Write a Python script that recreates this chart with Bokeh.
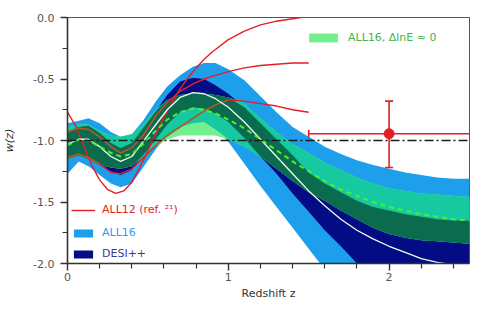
import numpy as np
from bokeh.plotting import figure
from bokeh.models import Range1d, FixedTicker, Span, Legend, LegendItem
from bokeh.embed import file_html
from bokeh.resources import INLINE

# ---------------- data ----------------
Z = [0.0, 0.07, 0.13, 0.2, 0.27, 0.33, 0.4, 0.47, 0.55, 0.62, 0.7, 0.78, 0.85, 0.92, 1.0,
     1.1, 1.2, 1.3, 1.4, 1.5, 1.6, 1.7, 1.8, 1.9, 2.0, 2.1, 2.2, 2.3, 2.4, 2.5]

# ALL16 band (light blue)
all16_hi = [-0.86, -0.84, -0.82, -0.86, -0.93, -0.97, -0.95, -0.84, -0.68, -0.56, -0.47, -0.40, -0.37, -0.37, -0.42,
            -0.51, -0.64, -0.77, -0.89, -0.97, -1.05, -1.11, -1.16, -1.20, -1.23, -1.26, -1.28, -1.30, -1.31, -1.31]
all16_lo = [-1.27, -1.17, -1.21, -1.28, -1.35, -1.38, -1.35, -1.22, -1.07, -0.96, -0.89, -0.86, -0.85, -0.91, -1.01,
            -1.19, -1.37, -1.54, -1.71, -1.88, -2.05, -2.22, -2.39, -2.50, -2.60, -2.65, -2.70, -2.75, -2.80, -2.85]

# DESI++ band (navy)
desi_hi = [-0.93, -0.89, -0.88, -0.94, -1.02, -1.06, -1.02, -0.90, -0.76, -0.63, -0.52, -0.49, -0.50, -0.55, -0.62,
           -0.73, -0.86, -0.99, -1.12, -1.26, -1.35, -1.42, -1.49, -1.54, -1.57, -1.60, -1.62, -1.64, -1.65, -1.65]
desi_lo = [-1.15, -1.12, -1.15, -1.20, -1.25, -1.28, -1.24, -1.12, -0.99, -0.87, -0.77, -0.73, -0.74, -0.78, -0.85,
           -0.98, -1.13, -1.27, -1.43, -1.58, -1.73, -1.86, -2.00, -2.10, -2.18, -2.24, -2.30, -2.35, -2.40, -2.44]

# ALL16, dlnE ~ 0 band (green)
dle_hi = [-0.89, -0.87, -0.87, -0.92, -0.96, -0.97, -0.95, -0.87, -0.75, -0.67, -0.63, -0.62, -0.62, -0.63, -0.65,
          -0.70, -0.82, -0.93, -1.03, -1.10, -1.18, -1.24, -1.30, -1.35, -1.39, -1.41, -1.43, -1.44, -1.45, -1.46]
dle_lo = [-1.15, -1.12, -1.15, -1.20, -1.22, -1.23, -1.21, -1.13, -1.05, -0.99, -0.96, -0.96, -0.96, -0.96, -0.99,
          -1.05, -1.13, -1.23, -1.33, -1.42, -1.49, -1.57, -1.64, -1.71, -1.76, -1.79, -1.81, -1.82, -1.83, -1.84]

# central curves
desi_mid = [-1.03, -0.99, -0.99, -1.05, -1.13, -1.17, -1.13, -1.01, -0.87, -0.75, -0.65, -0.61, -0.62, -0.66, -0.73,
            -0.85, -0.99, -1.13, -1.27, -1.41, -1.53, -1.64, -1.73, -1.80, -1.86, -1.91, -1.96, -1.99, -2.01, -2.03]
dle_mid = [-1.04, -0.99, -1.00, -1.05, -1.10, -1.13, -1.11, -1.03, -0.92, -0.83, -0.77, -0.74, -0.75, -0.78, -0.83,
           -0.90, -0.99, -1.08, -1.17, -1.25, -1.33, -1.40, -1.45, -1.50, -1.54, -1.57, -1.60, -1.62, -1.64, -1.65]

# ALL12 (ref. 21) curves
Z_A = [0.0, 0.05, 0.1, 0.15, 0.2, 0.25, 0.3, 0.35, 0.4, 0.45, 0.5, 0.55, 0.6, 0.65, 0.7, 0.75,
       0.8, 0.85, 0.9, 1.0, 1.1, 1.2, 1.3, 1.4, 1.5]
all12_a = [-0.77, -0.88, -1.04, -1.20, -1.32, -1.40, -1.43, -1.41, -1.34, -1.22, -1.08, -0.94, -0.81, -0.69, -0.58,
           -0.49, -0.41, -0.34, -0.28, -0.18, -0.11, -0.06, -0.03, -0.01, 0.01]
Z_BC = Z[:20]
all12_b = [-0.93, -0.90, -0.91, -0.97, -1.05, -1.10, -1.06, -0.96, -0.80, -0.69, -0.60, -0.54, -0.50, -0.47, -0.44,
           -0.41, -0.39, -0.38, -0.37, -0.37]
all12_c = [-1.14, -1.11, -1.14, -1.19, -1.26, -1.27, -1.23, -1.14, -1.04, -0.96, -0.89, -0.82, -0.76, -0.71, -0.67,
           -0.68, -0.70, -0.72, -0.75, -0.77]

# data point with error bars
point_z = [2.0]
point_w = [-0.945]
w_err_lo = [-1.22]
w_err_hi = [-0.68]
z_err_lo = [1.5]
z_err_hi = [2.5]

LCDM_W = -1.0

y_ticks = [-2.0, -1.5, -1.0, -0.5, 0.0]
y_tick_labels = ["-2.0", "-1.5", "-1.0", "-0.5", "0.0"]
y_minor = [-1.75, -1.25, -0.75, -0.25]
x_ticks = [0, 1, 2]
x_tick_labels = ["0", "1", "2"]
x_minor = [0.2, 0.4, 0.6, 0.8, 1.2, 1.4, 1.6, 1.8, 2.2, 2.4]

# ---------------- colours ----------------
C_BLUE = "#1E9FEB"
C_NAVY = "#030C84"
C_LGREEN = "#72F08E"
C_TEAL = "#16C9A0"
C_DGREEN = "#0B6B4E"
C_RED = "#E41E26"
C_BROWN = "#A2642A"
FONT = "DejaVu Sans"

# ---------------- derived overlaps ----------------
bl, bu = np.array(all16_lo), np.array(all16_hi)
nl, nu = np.array(desi_lo), np.array(desi_hi)
gl, gu = np.array(dle_lo), np.array(dle_hi)

teal_lo = np.maximum(gl, bl)
teal_hi = np.minimum(gu, bu)
teal_hi = np.where(teal_hi < teal_lo, teal_lo, teal_hi)
dg_lo = np.maximum(gl, nl)
dg_hi = np.minimum(gu, nu)
dg_hi = np.where(dg_hi < dg_lo, dg_lo, dg_hi)

b_arr, c_arr = np.array(all12_b), np.array(all12_c)
gl20, gu20 = gl[:20], gu[:20]
b_in = np.where((b_arr >= gl20) & (b_arr <= gu20), b_arr, np.nan)
c_in = np.where((c_arr >= gl20) & (c_arr <= gu20), c_arr, np.nan)

# ---------------- figure ----------------
p = figure(width=484, height=302, x_range=Range1d(0, 2.5), y_range=Range1d(-2.0, 0.0),
           output_backend="svg", toolbar_location=None,
           min_border_left=63, min_border_right=15, min_border_top=17, min_border_bottom=39)
p.xgrid.visible = False
p.ygrid.visible = False
p.outline_line_color = "#555555"
p.outline_line_width = 1
p.background_fill_color = "white"

r_blue = p.varea(x=Z, y1=bl, y2=bu, fill_color=C_BLUE)
r_navy = p.varea(x=Z, y1=nl, y2=nu, fill_color=C_NAVY)
r_lg = p.varea(x=Z, y1=gl, y2=gu, fill_color=C_LGREEN)
p.varea(x=Z, y1=teal_lo, y2=teal_hi, fill_color=C_TEAL)
p.varea(x=Z, y1=dg_lo, y2=dg_hi, fill_color=C_DGREEN)

p.add_layout(Span(location=LCDM_W, dimension="width", line_color="#1a1a1a",
                  line_width=1.3, line_dash="9 3 2 3"))

r_a = p.line(Z_A, all12_a, line_color=C_RED, line_width=1.4)
p.line(Z_BC, all12_b, line_color=C_RED, line_width=1.4)
p.line(Z_BC, all12_c, line_color=C_RED, line_width=1.4)
p.line(Z_BC, b_in, line_color=C_BROWN, line_width=1.4)
p.line(Z_BC, c_in, line_color=C_BROWN, line_width=1.4)

p.line(Z, desi_mid, line_color="#EEFFE8", line_width=1.3)
p.line(Z, dle_mid, line_color="#4CF02A", line_width=2, line_dash="5 4")

# error bar point
p.segment(x0=z_err_lo, y0=point_w, x1=z_err_hi, y1=point_w, line_color=C_RED, line_width=1.6)
p.segment(x0=point_z, y0=w_err_lo, x1=point_z, y1=w_err_hi, line_color=C_RED, line_width=1.6)
p.scatter(x=point_z * 2, y=w_err_lo + w_err_hi, marker="dash", size=8, line_color=C_RED, line_width=1.6)
p.scatter(x=z_err_lo, y=point_w, marker="dash", angle=np.pi / 2, size=8, line_color=C_RED, line_width=1.6)
p.scatter(x=point_z, y=point_w, size=10, fill_color=C_RED, line_color=C_RED)

# ---------------- axes ----------------
for ax in (p.xaxis[0], p.yaxis[0]):
    ax.axis_line_color = "#333333"
    ax.axis_line_width = 1.6
    ax.major_tick_line_color = "#333333"
    ax.minor_tick_line_color = "#333333"
    ax.major_tick_line_width = 1.4
    ax.minor_tick_line_width = 1.2
    ax.major_tick_out = 7
    ax.major_tick_in = 0
    ax.minor_tick_out = 5
    ax.minor_tick_in = 0
    ax.major_label_text_font = FONT
    ax.major_label_text_font_size = "11px"
    ax.major_label_text_color = "#555555"
    ax.axis_label_text_font = FONT
    ax.axis_label_text_font_size = "11px"
    ax.axis_label_text_color = "#333333"
    ax.axis_label_text_font_style = "normal"

p.yaxis[0].ticker = FixedTicker(ticks=y_ticks, minor_ticks=y_minor)
p.yaxis[0].major_label_overrides = dict(zip(y_ticks, y_tick_labels))
p.yaxis[0].major_label_standoff = 6
p.yaxis[0].axis_label = "w(z)"
p.yaxis[0].axis_label_text_font_style = "italic"
p.yaxis[0].axis_label_standoff = 14

p.xaxis[0].ticker = FixedTicker(ticks=x_ticks, minor_ticks=x_minor)
p.xaxis[0].major_label_overrides = dict(zip(x_ticks, x_tick_labels))
p.xaxis[0].major_label_standoff = 2
p.xaxis[0].axis_label = "Redshift z"
p.xaxis[0].axis_label_standoff = 3

# ---------------- legends ----------------
def make_legend(label, renderer, color, loc, gw, gh):
    lg = Legend(items=[LegendItem(label=label, renderers=[renderer])], location=loc,
                background_fill_alpha=0, border_line_alpha=0, padding=0, margin=0, spacing=0,
                label_standoff=7, glyph_width=gw, glyph_height=gh, label_height=12,
                label_text_font=FONT, label_text_font_size="11px", label_text_color=color)
    p.add_layout(lg)

make_legend("ALL16, \u0394lnE \u2248 0", r_lg, "#3DB54E", (238, 219), 36, 11)
make_legend("ALL12 (ref. \u00b2\u00b9)", r_a, C_RED, (4, 47), 24, 10)
make_legend("ALL16", r_blue, C_BLUE, (4, 24), 24, 10)
make_legend("DESI++", r_navy, "#3A3896", (4, 3), 24, 10)

open("out.html", "w").write(file_html(p, INLINE))
